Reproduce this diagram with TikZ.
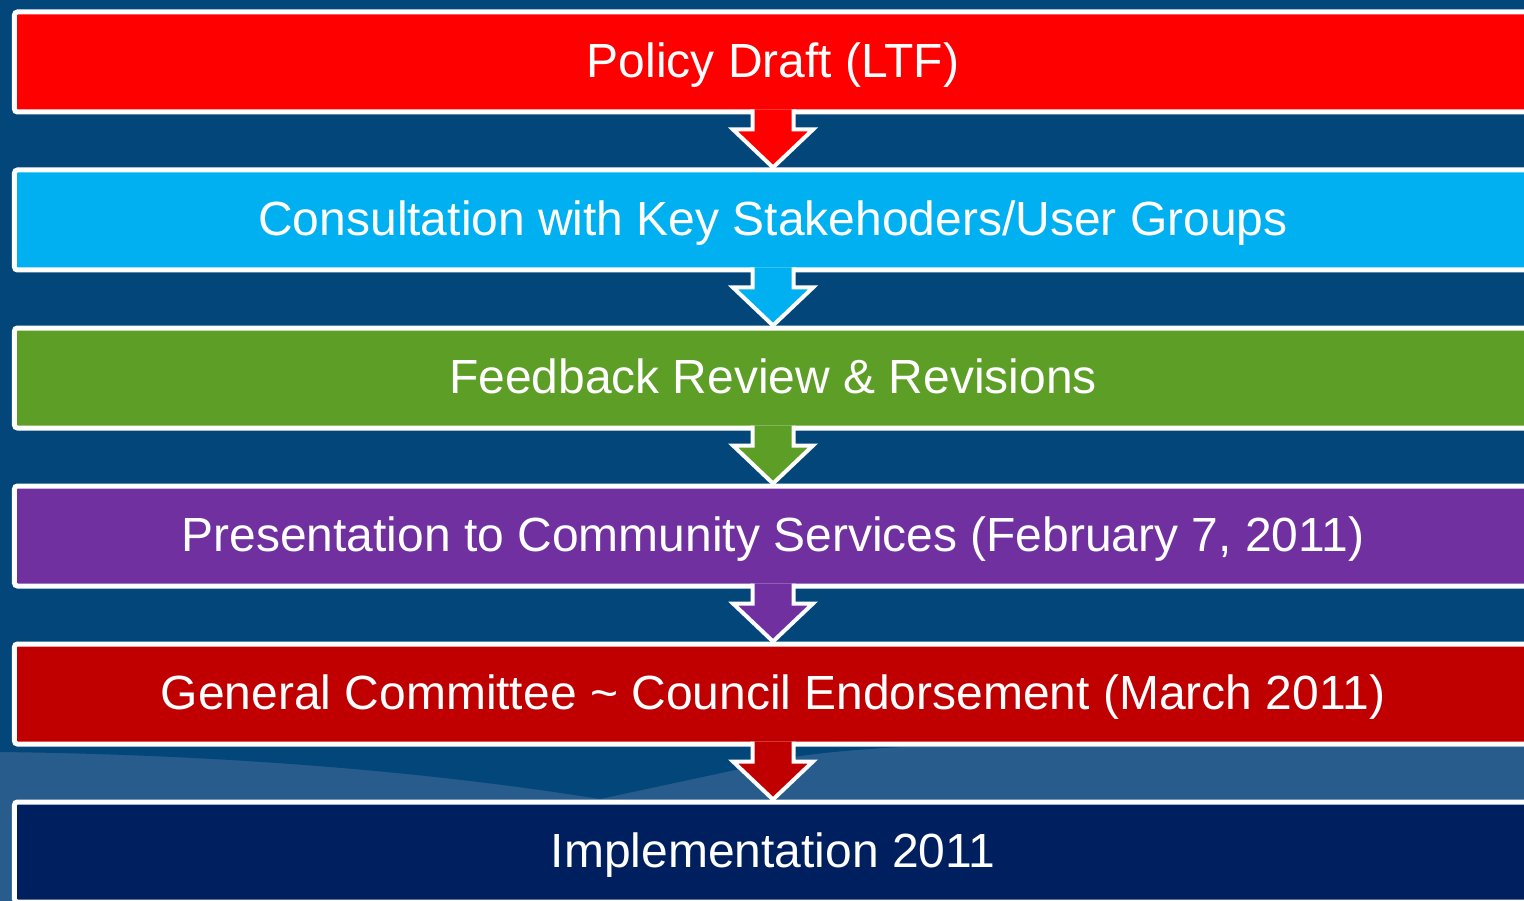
\documentclass[tikz,border=0pt]{standalone}
\usepackage{fontspec}
\setmainfont{Liberation Sans}
\usepackage{tikz}
\usetikzlibrary{positioning,calc}
\usepackage{xcolor}
\definecolor{bgblue}{HTML}{03467A}
\definecolor{bglight}{HTML}{275C8D}
\definecolor{draftred}{HTML}{FF0000}
\definecolor{consultcyan}{HTML}{00B0F0}
\definecolor{feedbackgreen}{HTML}{5C9E26}
\definecolor{presentpurple}{HTML}{7030A0}
\definecolor{councilred}{HTML}{C00000}
\definecolor{implementnavy}{HTML}{001F5E}

\begin{document}
\begin{tikzpicture}[
    stepbox/.style={draw=white,line width=0.05cm,rounded corners=0.03cm,
        minimum width=15.17cm,minimum height=1.0cm,inner sep=0pt,
        text=white,font=\fontsize{13.65pt}{16pt}\selectfont,
        text height=11.6pt,text depth=2.8pt},
    flowarrow/.style={draw=white,line width=0.04cm,line join=miter}]
        \useasboundingbox (0,0) rectangle (15.24,-9.01);
        \clip (0,0) rectangle (15.24,-9.01);
        \fill[bgblue] (0,0) rectangle (15.24,-9.01);
        \fill[bglight] (0,-7.47) rectangle (15.24,-9.01);
        \fill[bgblue] (0,-7.47) -- (0,-7.52) .. controls (2.5,-7.55) and (4.5,-7.75) .. (6.0,-7.99)
            -- (7.35,-7.7) .. controls (7.8,-7.55) and (8.5,-7.5) .. (9.0,-7.47) -- cycle;
        \node[stepbox,fill=draftred] (draft) at (7.73,-0.62) {Policy Draft (LTF)};
        \node[stepbox,fill=consultcyan,below=0.53cm of draft] (consult) {Consultation with Key Stakehoders/User Groups};
        \node[stepbox,fill=feedbackgreen,below=0.53cm of consult] (feedback) {Feedback Review \& Revisions};
        \node[stepbox,fill=presentpurple,below=0.53cm of feedback] (present) {Presentation to Community Services (February 7, 2011)};
        \node[stepbox,fill=councilred,below=0.53cm of present] (council) {General Committee \textasciitilde\ Council Endorsement (March 2011)};
        \node[stepbox,fill=implementnavy,below=0.53cm of council] (implement) {Implementation 2011};
        \draw[flowarrow,fill=draftred] ($(draft.south)+(-0.205,0.05)$) -- ++(0,-0.2) -- ++(-0.195,0) -- (consult.north)
            -- ($(draft.south)+(0.4,-0.15)$) -- ++(-0.195,0) -- ++(0,0.2);
        \draw[flowarrow,fill=consultcyan] ($(consult.south)+(-0.205,0.05)$) -- ++(0,-0.2) -- ++(-0.195,0) -- (feedback.north)
            -- ($(consult.south)+(0.4,-0.15)$) -- ++(-0.195,0) -- ++(0,0.2);
        \draw[flowarrow,fill=feedbackgreen] ($(feedback.south)+(-0.205,0.05)$) -- ++(0,-0.2) -- ++(-0.195,0) -- (present.north)
            -- ($(feedback.south)+(0.4,-0.15)$) -- ++(-0.195,0) -- ++(0,0.2);
        \draw[flowarrow,fill=presentpurple] ($(present.south)+(-0.205,0.05)$) -- ++(0,-0.2) -- ++(-0.195,0) -- (council.north)
            -- ($(present.south)+(0.4,-0.15)$) -- ++(-0.195,0) -- ++(0,0.2);
        \draw[flowarrow,fill=councilred] ($(council.south)+(-0.205,0.05)$) -- ++(0,-0.2) -- ++(-0.195,0) -- (implement.north)
            -- ($(council.south)+(0.4,-0.15)$) -- ++(-0.195,0) -- ++(0,0.2);
    \end{tikzpicture}
\end{document}
